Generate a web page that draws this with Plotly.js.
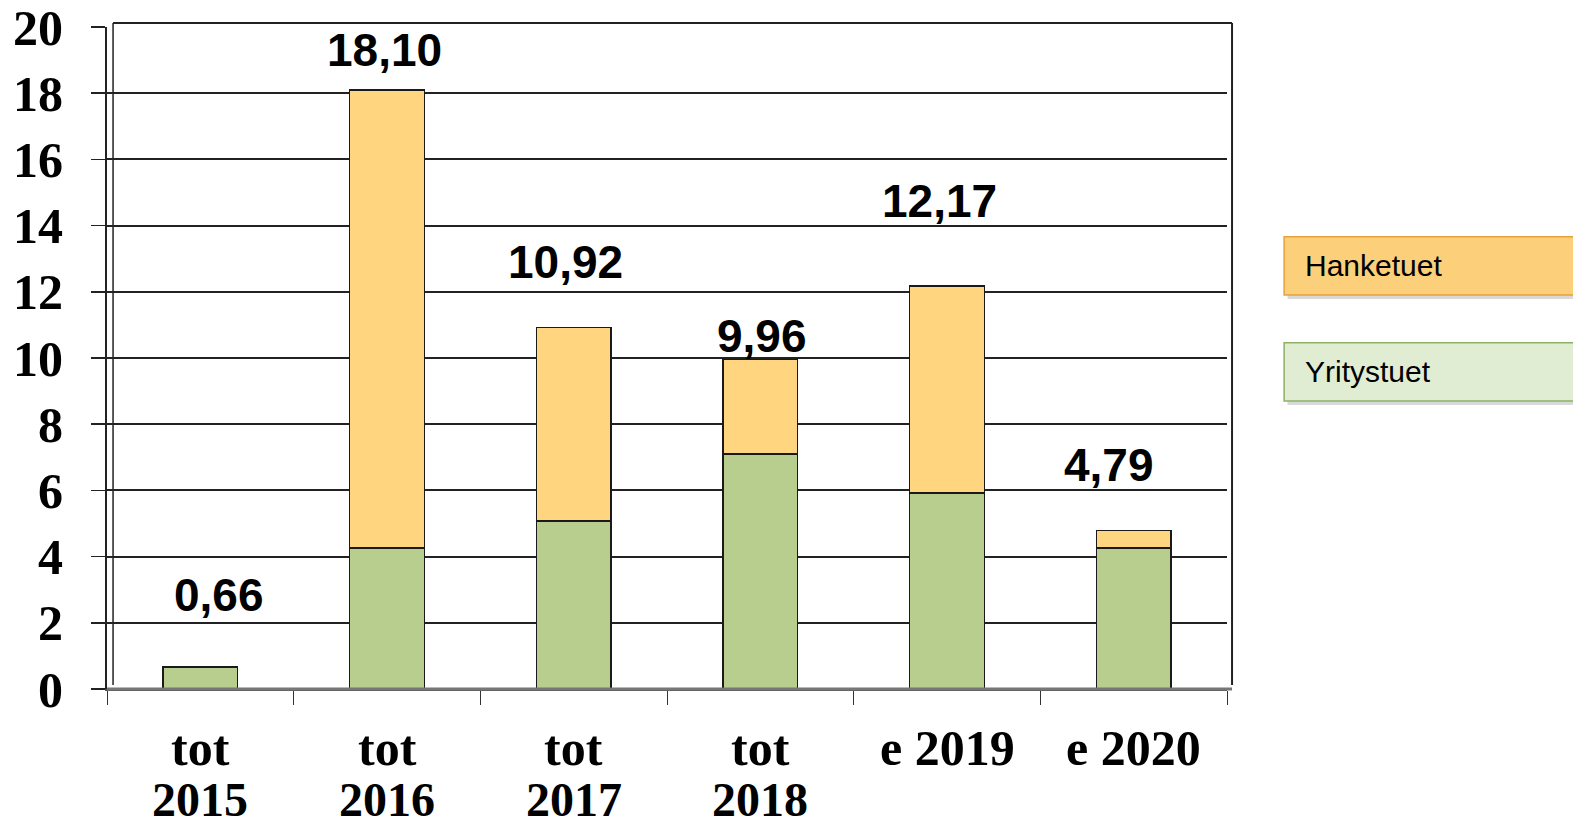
<!DOCTYPE html>
<html><head><meta charset="utf-8">
<script src="https://cdn.plot.ly/plotly-3.0.1.min.js"></script>
<style>html,body{margin:0;padding:0;background:#fff;}#chart{width:1573px;height:829px;}</style>
</head><body><div id="chart"></div>
<script>
// ---- data ----
const categories = ["tot 2015","tot 2016","tot 2017","tot 2018","e 2019","e 2020"];
const labelLine1 = ["tot","tot","tot","tot","e 2019","e 2020"];
const labelLine2 = ["2015","2016","2017","2018","",""];
const yritystuet = [0.66, 4.26, 5.07, 7.10, 5.92, 4.26];
const hanketuet  = [0.00, 13.84, 5.85, 2.86, 6.25, 0.53];
const totals     = [0.66, 18.10, 10.92, 9.96, 12.17, 4.79];
const totalText  = ["0,66","18,10","10,92","9,96","12,17","4,79"];
const yTicks = [0,2,4,6,8,10,12,14,16,18,20];

// ---- style (label placement offsets in px) ----
const labelYShift = [72, 40, 66, 23, 85, 65];
const labelXShift = [19, -3, -8, 2, -8, -25];

const green = "#B7CE8E", orange = "#FFD67F";

const traces = [
  {type:"bar", name:"Yritystuet", x:categories, y:yritystuet, width:0.4,
   marker:{color:green, line:{color:"#1a1a1a", width:1.5}}, hoverinfo:"y"},
  {type:"bar", name:"Hanketuet", x:categories, y:hanketuet, width:0.4,
   marker:{color:orange, line:{color:"#1a1a1a", width:1.5}}, hoverinfo:"y"}
];

const annotations = [];
categories.forEach((c,i)=>{
  annotations.push({x:c, xref:"x", y:totals[i], yref:"y", text:totalText[i], showarrow:false,
    yanchor:"middle", xanchor:"center", yshift:labelYShift[i], xshift:labelXShift[i],
    font:{family:"Liberation Sans, Arial", size:46, color:"#000", weight:"bold"}});
  annotations.push({x:c, xref:"x", y:0, yref:"y", text:labelLine1[i], showarrow:false,
    yanchor:"middle", xanchor:"center", yshift:-59,
    font:{family:"Liberation Serif, Times New Roman", size:50, color:"#000", weight:"bold"}});
  if (labelLine2[i]) annotations.push({x:c, xref:"x", y:0, yref:"y", text:labelLine2[i], showarrow:false,
    yanchor:"middle", xanchor:"center", yshift:-110,
    font:{family:"Liberation Serif, Times New Roman", size:48, color:"#000", weight:"bold"}});
});
// legend-like boxes
annotations.push({xref:"paper", yref:"paper", x:1.068, y:0.639, text:"Hanketuet", showarrow:false,
  xanchor:"left", yanchor:"middle", font:{family:"Liberation Sans, Arial", size:30, color:"#000"}});
annotations.push({xref:"paper", yref:"paper", x:1.068, y:0.479, text:"Yritystuet", showarrow:false,
  xanchor:"left", yanchor:"middle", font:{family:"Liberation Sans, Arial", size:30, color:"#000"}});

const shapes = [
  // legend shadows
  {type:"rect", xref:"paper", yref:"paper", x0:1.054, x1:1.32, y0:0.589, y1:0.680, line:{width:0}, fillcolor:"rgba(0,0,0,0.15)", layer:"below"},
  {type:"rect", xref:"paper", yref:"paper", x0:1.054, x1:1.32, y0:0.429, y1:0.520, line:{width:0}, fillcolor:"rgba(0,0,0,0.15)", layer:"below"},
  // legend boxes
  {type:"rect", xref:"paper", yref:"paper", x0:1.051, x1:1.32, y0:0.595, y1:0.683, line:{color:"#E3A33A", width:1.5}, fillcolor:"#FCCF7A"},
  {type:"rect", xref:"paper", yref:"paper", x0:1.051, x1:1.32, y0:0.435, y1:0.523, line:{color:"#8DB165", width:1.5}, fillcolor:"#E0EDD2"},
  // back wall: top edge, right edge and left wall inner line
  {type:"line", xref:"paper", yref:"paper", x0:0.0054, x1:1.0045, y0:1.006, y1:1.006, line:{color:"#222", width:2}},
  {type:"line", xref:"paper", yref:"paper", x0:1.0045, x1:1.0045, y0:0.006, y1:1.006, line:{color:"#222", width:2}},
  {type:"line", xref:"paper", yref:"paper", x0:0.0054, x1:0.0054, y0:0.006, y1:1.006, line:{color:"#222", width:1.5}},
  {type:"line", xref:"paper", yref:"paper", x0:0.0, x1:1.0045, y0:0.0, y1:0.0, line:{color:"#777", width:3}}
];

const layout = {
  width:1573, height:829,
  margin:{l:107, r:346, t:27, b:140, pad:0},
  paper_bgcolor:"#fff", plot_bgcolor:"#fff",
  barmode:"stack", showlegend:false,
  xaxis:{type:"category", showgrid:false, ticks:"outside", tickson:"boundaries", ticklen:14,
         tickcolor:"#333", tickwidth:1, showticklabels:false, showline:true, linecolor:"#555", linewidth:2,
         zeroline:false},
  yaxis:{range:[0,20], tickvals:yTicks, ticktext:yTicks.map(String), ticks:"outside", ticklen:14,
         tickcolor:"#222", tickwidth:1.5, showline:true, linecolor:"#222", linewidth:2,
         showgrid:true, gridcolor:"#222", gridwidth:2, zeroline:false, ticklabelstandoff:18,
         ticklabeloverflow:"allow",
         tickfont:{family:"Liberation Serif, Times New Roman", size:50, color:"#000", weight:"bold"}},
  annotations:annotations, shapes:shapes
};

Plotly.newPlot("chart", traces, layout, {displayModeBar:false, staticPlot:true});
</script></body></html>
